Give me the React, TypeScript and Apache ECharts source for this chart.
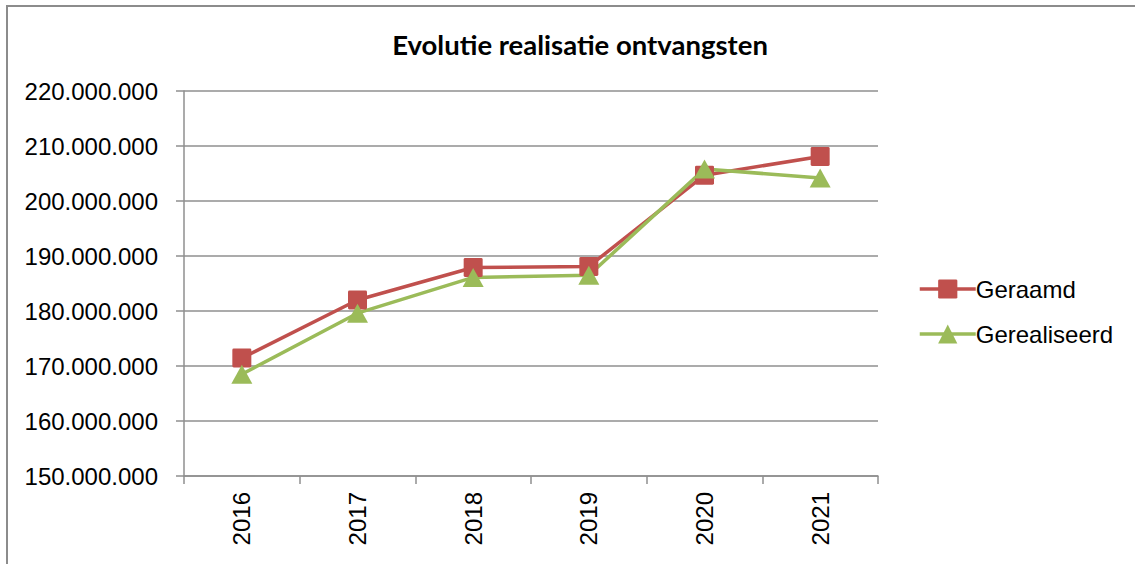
import React, { useEffect, useRef } from "react";
import * as echarts from "echarts";

const years = ["2016", "2017", "2018", "2019", "2020", "2021"];
const geraamd = [171450000, 182000000, 187900000, 188100000, 204700000, 208100000];
const gerealiseerd = [168500000, 179600000, 186100000, 186500000, 205800000, 204200000];
const titleText = "Evolutie realisatie ontvangsten";
const seriesNames = ["Geraamd", "Gerealiseerd"];

const fmt = (v: number) => String(Math.round(v)).replace(/\B(?=(\d{3})+(?!\d))/g, ".");

const squareSym = "path://M1.5,0 H18.5 Q20,0 20,1.5 V18.5 Q20,20 18.5,20 H1.5 Q0,20 0,18.5 V1.5 Q0,0 1.5,0 Z";

export default function App() {
  const ref = useRef<HTMLDivElement>(null);
  useEffect(() => {
    if (!ref.current) return;
    const chart = echarts.init(ref.current, undefined, { renderer: "svg" });
    const gridColor = "#8f8f8f";
    const font = "'Liberation Sans', Arial, sans-serif";
    const red = "#C0504D";
    const green = "#9BBB59";
    chart.setOption({
      animation: false,
      backgroundColor: "#ffffff",
      title: {
        text: titleText,
        left: 575,
        textAlign: "center",
        top: 25,
        textStyle: { fontFamily: "Lato, 'Open Sans', sans-serif", fontWeight: "bold", fontSize: 27.5, color: "#000" },
      },
      legend: {
        orient: "vertical",
        left: 913,
        top: 272,
        itemWidth: 56,
        itemHeight: 24,
        itemGap: 21,
        textStyle: { fontFamily: font, fontSize: 24, color: "#000", padding: [0, 0, 0, -5] },
        data: [
          { name: seriesNames[0], lineStyle: { width: 3.5, color: red } },
          { name: seriesNames[1], lineStyle: { width: 3.5, color: green } },
        ],
      },
      graphic: [
        {
          type: "polyline",
          shape: { points: [[1140, 6], [7, 6], [7, 570]] },
          style: { stroke: "#8c8c8c", lineWidth: 2, fill: "none" },
          silent: true,
        },
      ],
      grid: { left: 184, right: 257, top: 91, bottom: 88 },
      xAxis: {
        type: "category",
        data: years,
        boundaryGap: true,
        axisLine: { show: true, lineStyle: { color: gridColor, width: 1.5 } },
        axisTick: { show: true, length: 8, lineStyle: { color: gridColor, width: 1.5 } },
        axisLabel: { rotate: 90, margin: 16, fontFamily: font, fontSize: 24, color: "#000" },
      },
      yAxis: {
        type: "value",
        min: 150000000,
        max: 220000000,
        interval: 10000000,
        axisLine: { show: true, lineStyle: { color: gridColor, width: 1.5 } },
        axisTick: { show: true, length: 8, lineStyle: { color: gridColor, width: 1.5 } },
        splitLine: { show: true, lineStyle: { color: gridColor, width: 1.5 } },
        axisLabel: { margin: 26, fontFamily: font, fontSize: 24, color: "#000", formatter: (v: number) => fmt(v) },
      },
      series: [
        {
          name: seriesNames[0],
          type: "line",
          data: geraamd,
          symbol: squareSym,
          symbolSize: 19,
          lineStyle: { color: red, width: 3.5 },
          itemStyle: { color: red },
        },
        {
          name: seriesNames[1],
          type: "line",
          data: gerealiseerd,
          symbol: "triangle",
          symbolSize: [21, 19],
          lineStyle: { color: green, width: 3.5 },
          itemStyle: { color: green },
        },
      ],
    });
    return () => chart.dispose();
  }, []);
  return <div ref={ref} style={{ position: "fixed", left: 0, top: 0, width: 1135, height: 564 }} />;
}
